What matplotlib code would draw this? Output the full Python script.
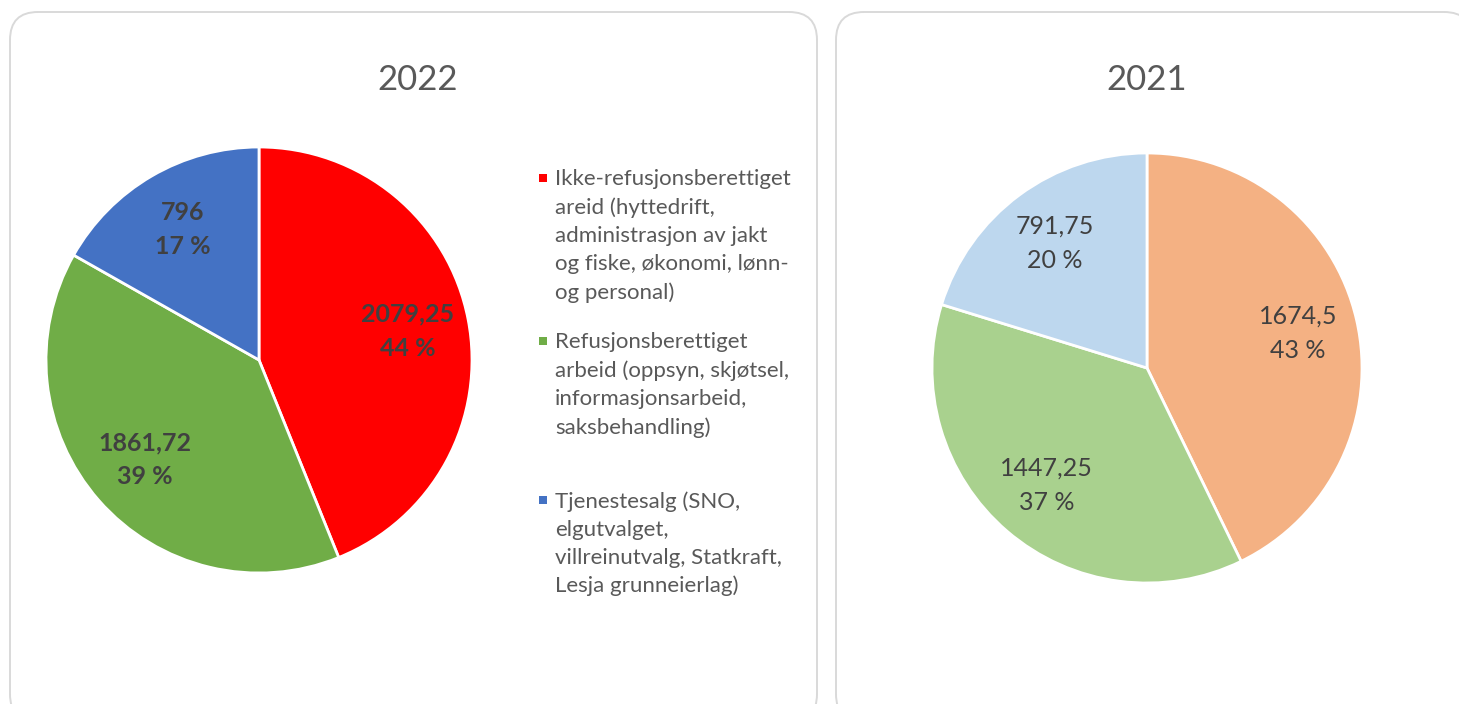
import matplotlib.pyplot as plt
import numpy as np
from matplotlib.patches import FancyBboxPatch, Rectangle

plt.rcParams["font.family"] = ["Lato", "DejaVu Sans"]

# data
categories = [
    "Ikke-refusjonsberettiget\nareid (hyttedrift,\nadministrasjon av jakt\nog fiske, økonomi, lønn-\nog personal)",
    "Refusjonsberettiget\narbeid (oppsyn, skjøtsel,\ninformasjonsarbeid,\nsaksbehandling)",
    "Tjenestesalg (SNO,\nelgutvalget,\nvillreinutvalg, Statkraft,\nLesja grunneierlag)",
]
values_2022 = [2079.25, 1861.72, 796]
values_2021 = [1674.5, 1447.25, 791.75]
labels_2022 = ["2079,25", "1861,72", "796"]
labels_2021 = ["1674,5", "1447,25", "791,75"]
colors_2022 = ["#FF0000", "#70AD47", "#4472C4"]
colors_2021 = ["#F4B183", "#A9D18E", "#BDD7EE"]

W, H = 1459, 704
fig = plt.figure(figsize=(W / 100, H / 100), dpi=100)

# background axes in pixel coordinates (origin top-left)
bg = fig.add_axes([0, 0, 1, 1], zorder=-1)
bg.set_xlim(0, W)
bg.set_ylim(H, 0)
bg.axis("off")
for x0, x1 in [(10, 817), (836, 1472)]:
    bg.add_patch(FancyBboxPatch(
        (x0, 12), x1 - x0, 710,
        boxstyle="round,pad=0,rounding_size=28",
        facecolor="white", edgecolor="#D9D9D9", linewidth=1.4,
    ))


def px_box(x0, y0, x1, y1):
    return [x0 / W, 1 - y1 / H, (x1 - x0) / W, (y1 - y0) / H]


def draw_pie(rect, values, labels, colors, bold, dist):
    ax = fig.add_axes(rect)
    wedges, _ = ax.pie(values, colors=colors, startangle=90, counterclock=False,
                       radius=1, wedgeprops=dict(edgecolor="white", linewidth=2))
    ax.set_xlim(-1, 1)
    ax.set_ylim(-1, 1)
    ax.set_aspect("equal")
    ax.axis("off")
    total = sum(values)
    for w, v, lab in zip(wedges, values, labels):
        ang = np.deg2rad((w.theta1 + w.theta2) / 2)
        pct = round(v / total * 100)
        ax.text(dist * np.cos(ang), dist * np.sin(ang), f"{lab}\n{pct} %",
                ha="center", va="center", fontsize=18, color="#404040",
                fontweight="bold" if bold else "normal", linespacing=1.6)
    return ax


draw_pie(px_box(46, 147, 472, 573), values_2022, labels_2022, colors_2022, True, 0.71)
draw_pie(px_box(932, 153, 1362, 583), values_2021, labels_2021, colors_2021, False, 0.72)

bg.text(418, 80, "2022", ha="center", va="center", fontsize=25, color="#595959")
bg.text(1147, 80, "2021", ha="center", va="center", fontsize=25, color="#595959")

# legend
for cat, col, ymid in zip(categories, colors_2022, [178, 341, 500]):
    bg.text(555, ymid - 9, cat, ha="left", va="top", fontsize=16,
            color="#595959", linespacing=1.5)
    bg.add_patch(Rectangle((539, ymid - 4), 8, 8, facecolor=col, edgecolor="none"))

fig.savefig("out.png", dpi=100)
